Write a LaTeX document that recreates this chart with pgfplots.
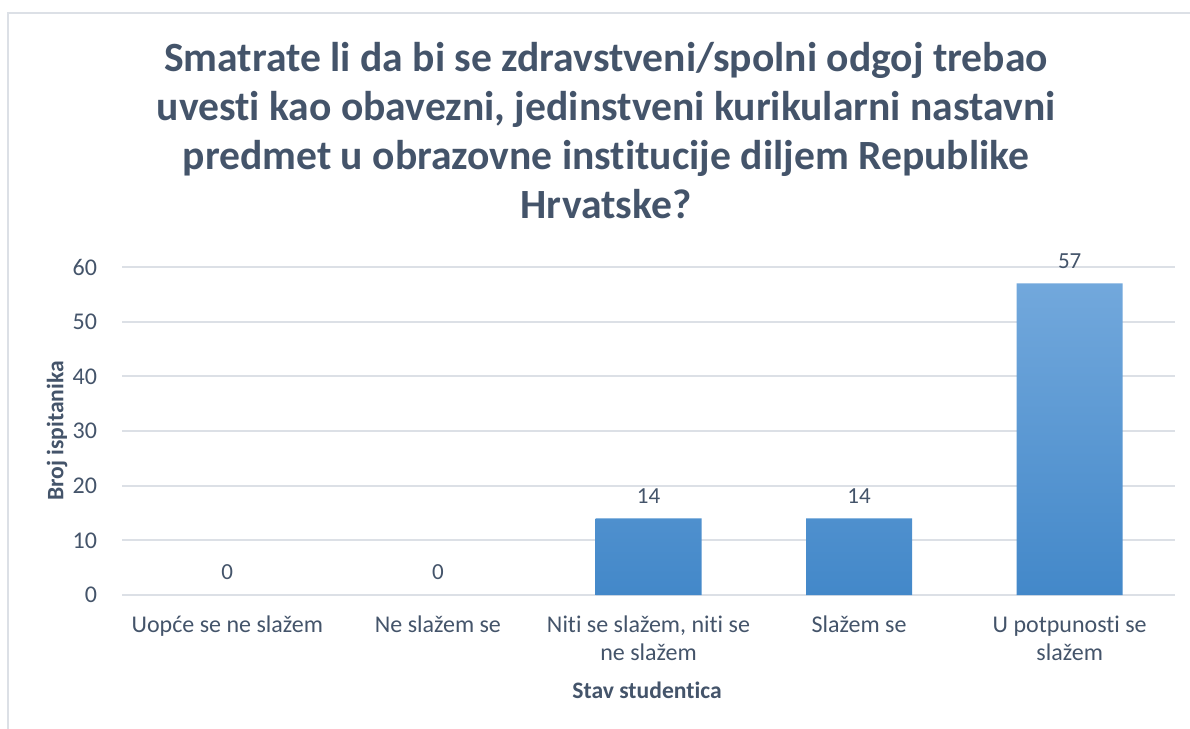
\documentclass[border=0pt]{standalone}
\usepackage{pgfplots}
\pgfplotsset{compat=1.18}
\usepackage{pgfplotstable}
\usepackage{fontspec}
\setmainfont{Carlito}[Ligatures=NoCommon, RawFeature=-calt, RawFeature=-clig, RawFeature=-dlig]
\definecolor{txt}{HTML}{44546A}
\definecolor{gridc}{HTML}{DCE0E6}
\definecolor{bartop}{HTML}{72A8DC}
\definecolor{barmid}{HTML}{599FDE}
\definecolor{barbot}{HTML}{4388C9}
\pgfplotstableread{
x y
0 0
1 0
2 14
3 14
4 57
}\datatable
\begin{document}
\begin{tikzpicture}
\useasboundingbox (0pt,0pt) rectangle (595pt,364.5pt);
\draw[gridc, line width=1pt] (4pt,0pt) -- (4pt,358pt) -- (595pt,358pt);
\tikzset{ttl/.style={anchor=base, text=txt, font=\fontsize{20.8}{25}\selectfont\bfseries}}
\node[ttl] at (303pt,328.6pt) {Smatrate li da bi se zdravstveni/spolni odgoj trebao};
\node[ttl] at (303pt,304.1pt) {uvesti kao obavezni, jedinstveni kurikularni nastavni};
\node[ttl] at (303pt,279.6pt) {predmet u obrazovne institucije diljem Republike};
\node[ttl] at (303pt,255.1pt) {Hrvatske?};
\begin{axis}[
  at={(61pt,67pt)}, anchor=south west,
  scale only axis, width=526.5pt, height=164pt,
  xmin=-0.5, xmax=4.5, ymin=0, ymax=60,
  ytick={0,10,20,30,40,50,60},
  xtick={0,1,2,3,4},
  xticklabels={{Uopće se ne slažem},{Ne slažem se},{Niti se slažem, niti se\\ne slažem},{Slažem se},{U potpunosti se\\slažem}},
  axis line style={draw=none},
  major tick length=0pt,
  ymajorgrids, grid style={gridc, line width=0.9pt},
  /pgf/number format/assume math mode=true,
  tick label style={text=txt, font=\fontsize{12}{14}\selectfont},
  yticklabel style={xshift=-9pt},
  xticklabel style={align=center, anchor=north, yshift=-7pt},
  xlabel={Stav studentica},
  ylabel={Broj ispitanika},
  xlabel style={text=txt, font=\fontsize{11.8}{13}\selectfont\bfseries, at={(axis description cs:0.4986,-0.29)}, anchor=center},
  ylabel style={text=txt, font=\fontsize{11.8}{13}\selectfont\bfseries, at={(axis description cs:-0.0617,0.5)}, anchor=center},
  clip=false,
]
\addplot[ybar, bar width=53pt, bar shift=0pt, draw=none, top color=bartop, middle color=barmid, bottom color=barbot, restrict y to domain=0.5:100] table[x=x,y=y] {\datatable};
\addplot[ybar, bar width=53pt, bar shift=0pt, draw=none, fill=none, nodes near coords, nodes near coords style={text=txt, font=\fontsize{11.5}{12}\selectfont, anchor=south, yshift=4pt}] table[x=x,y=y] {\datatable};
\end{axis}
\end{tikzpicture}
\end{document}
